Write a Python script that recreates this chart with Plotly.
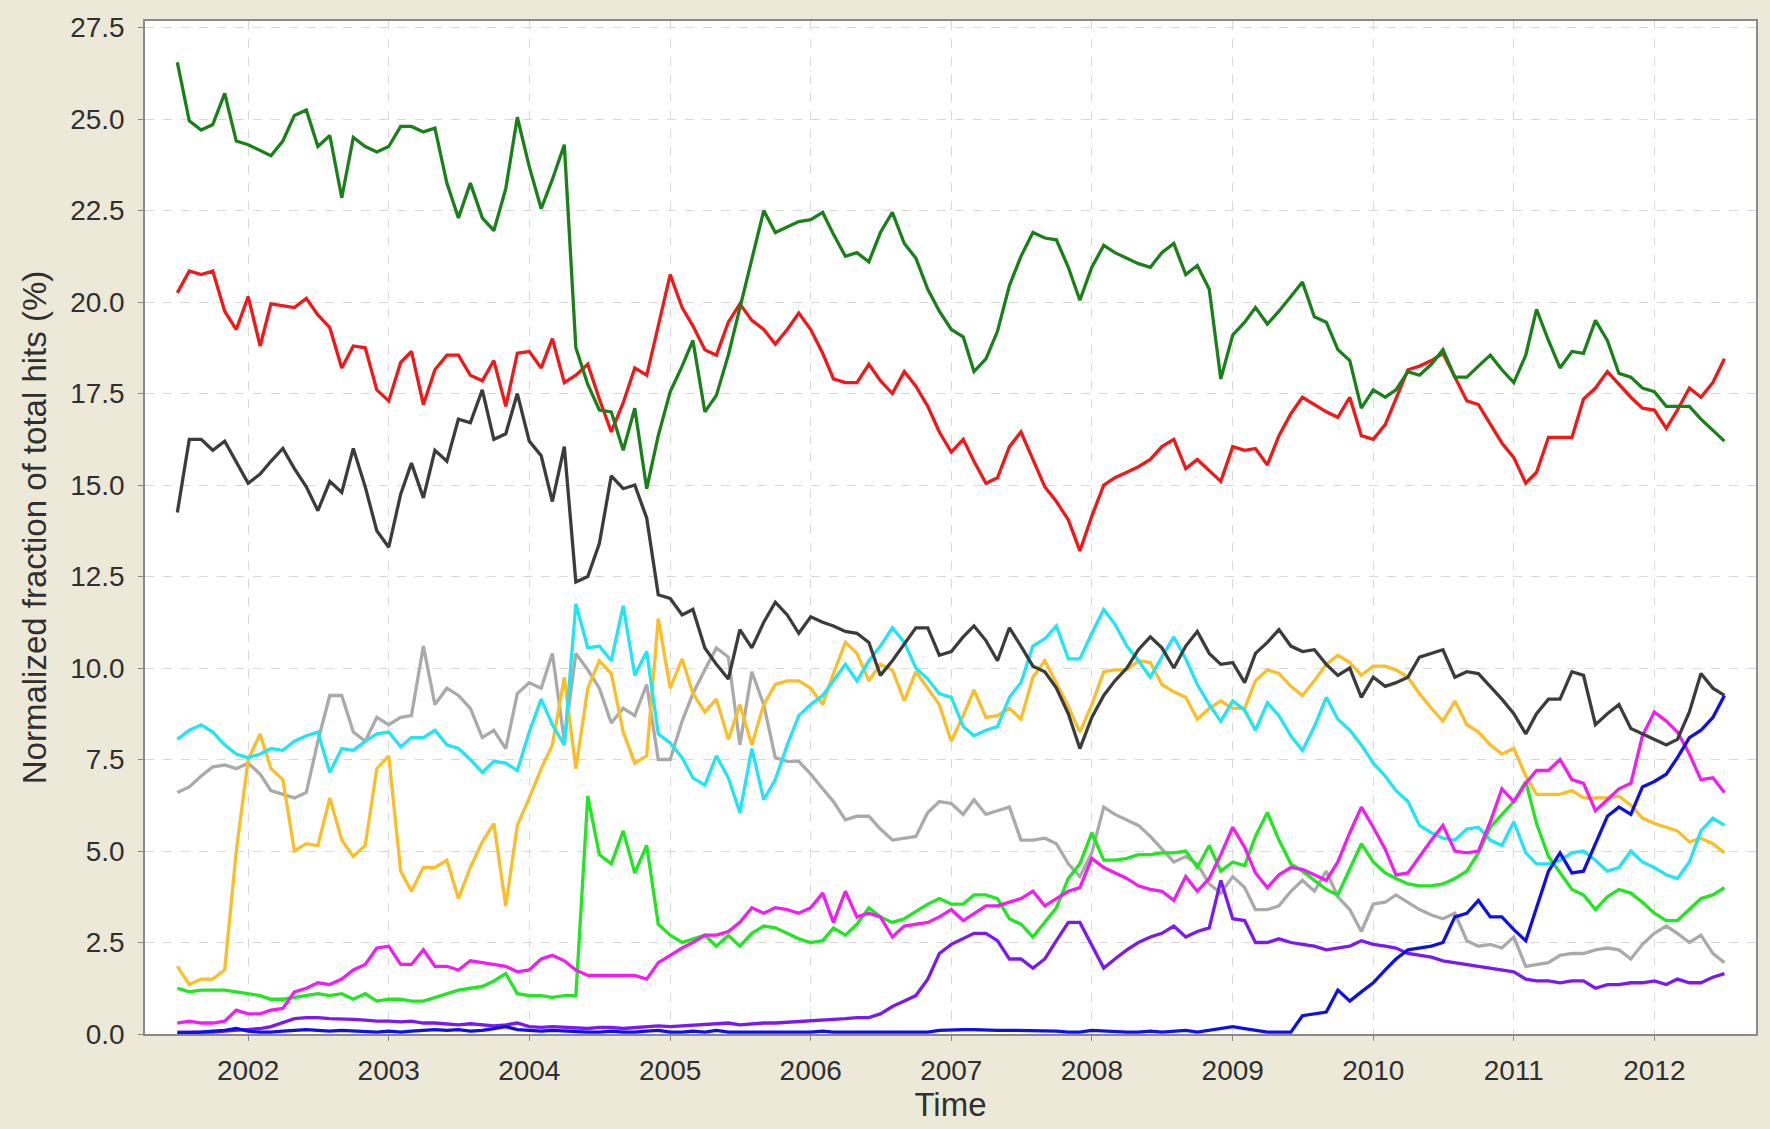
import pandas as pd
import plotly.graph_objects as go

# Monthly samples, July 2001 .. July 2012
months = pd.date_range("2001-07-01", periods=133, freq="MS")

dark_green = [
    26.55, 24.95, 24.7, 24.85, 25.7, 24.4, 24.3, 24.15, 24.0, 24.4,
    25.1, 25.25, 24.25, 24.55, 22.85, 24.5, 24.25, 24.1, 24.25, 24.8,
    24.8, 24.65, 24.75, 23.25, 22.3, 23.25, 22.3, 21.95, 23.1, 25.05,
    23.7, 22.55, 23.35, 24.3, 18.75, 17.75, 17.05, 17.0, 15.95, 17.1,
    14.9, 16.35, 17.55, 18.25, 18.95, 17.0, 17.45, 18.55, 19.85, 21.25,
    22.5, 21.9, 22.05, 22.2, 22.25, 22.45, 21.85, 21.25, 21.35, 21.1,
    21.9, 22.45, 21.6, 21.2, 20.35, 19.75, 19.25, 19.05, 18.1, 18.45,
    19.2, 20.45, 21.25, 21.9, 21.75, 21.7, 20.95, 20.05, 20.95, 21.55,
    21.35, 21.2, 21.05, 20.95, 21.35, 21.6, 20.75, 21.0, 20.35, 17.9,
    19.1, 19.45, 19.85, 19.4, 19.75, 20.15, 20.55, 19.6, 19.45, 18.7,
    18.4, 17.1, 17.6, 17.4, 17.6, 18.1, 18.0, 18.3, 18.7, 17.95,
    17.95, 18.25, 18.55, 18.15, 17.8, 18.55, 19.8, 18.95, 18.2, 18.65,
    18.6, 19.5, 18.95, 18.05, 17.95, 17.65, 17.55, 17.15, 17.15, 17.15,
    16.8, 16.5, 16.2,
]

red = [
    20.25, 20.85, 20.75, 20.85, 19.75, 19.25, 20.15, 18.8, 19.95, 19.9,
    19.85, 20.1, 19.65, 19.3, 18.2, 18.8, 18.75, 17.6, 17.3, 18.35,
    18.65, 17.2, 18.15, 18.55, 18.55, 18.0, 17.85, 18.4, 17.15, 18.6,
    18.65, 18.2, 19.0, 17.8, 18.0, 18.3, 17.35, 16.45, 17.25, 18.2,
    18.0, 19.35, 20.75, 19.85, 19.35, 18.7, 18.55, 19.45, 19.95, 19.5,
    19.25, 18.85, 19.25, 19.7, 19.25, 18.6, 17.9, 17.8, 17.8, 18.3,
    17.85, 17.5, 18.1, 17.7, 17.15, 16.45, 15.9, 16.25, 15.65, 15.05,
    15.2, 16.05, 16.45, 15.7, 14.95, 14.55, 14.05, 13.2, 14.15, 15.0,
    15.2, 15.35, 15.5, 15.7, 16.05, 16.25, 15.45, 15.7, 15.4, 15.1,
    16.05, 15.95, 16.0, 15.55, 16.35, 16.95, 17.4, 17.2, 17.0, 16.85,
    17.4, 16.35, 16.25, 16.65, 17.35, 18.15, 18.25, 18.4, 18.6, 17.95,
    17.3, 17.2, 16.65, 16.15, 15.75, 15.05, 15.35, 16.3, 16.3, 16.3,
    17.35, 17.65, 18.1, 17.75, 17.4, 17.1, 17.05, 16.55, 17.05, 17.65,
    17.4, 17.8, 18.45,
]

dark_gray = [
    14.25, 16.25, 16.25, 15.95, 16.2, 15.65, 15.05, 15.3, 15.65, 16.0,
    15.45, 14.95, 14.3, 15.1, 14.8, 16.0, 14.95, 13.75, 13.3, 14.75,
    15.6, 14.65, 15.95, 15.65, 16.8, 16.7, 17.6, 16.25, 16.4, 17.5,
    16.2, 15.8, 14.55, 16.05, 12.35, 12.5, 13.4, 15.25, 14.9, 15.0,
    14.1, 12.0, 11.9, 11.45, 11.6, 10.55, 10.1, 9.7, 11.05, 10.55,
    11.25, 11.8, 11.45, 10.95, 11.4, 11.25, 11.15, 11.0, 10.95, 10.7,
    9.8, 10.2, 10.65, 11.1, 11.1, 10.35, 10.45, 10.85, 11.15, 10.75,
    10.2, 11.1, 10.6, 10.05, 9.9, 9.45, 8.75, 7.8, 8.65, 9.25,
    9.65, 10.0, 10.5, 10.85, 10.55, 10.0, 10.6, 11.0, 10.4, 10.1,
    10.15, 9.6, 10.4, 10.7, 11.05, 10.6, 10.45, 10.5, 10.1, 9.8,
    10.0, 9.2, 9.75, 9.5, 9.6, 9.75, 10.3, 10.4, 10.5, 9.75,
    9.9, 9.85, 9.5, 9.15, 8.75, 8.2, 8.75, 9.15, 9.15, 9.9,
    9.8, 8.45, 8.75, 9.0, 8.35, 8.2, 8.05, 7.9, 8.05, 8.8,
    9.85, 9.45, 9.25,
]

cyan = [
    8.05, 8.3, 8.45, 8.25, 7.9, 7.65, 7.55, 7.65, 7.8, 7.75,
    8.0, 8.15, 8.25, 7.15, 7.8, 7.75, 8.0, 8.2, 8.25, 7.85,
    8.1, 8.1, 8.3, 7.9, 7.8, 7.5, 7.15, 7.45, 7.4, 7.2,
    8.25, 9.15, 8.45, 7.9, 11.75, 10.55, 10.6, 10.2, 11.7, 9.8,
    10.45, 8.2, 7.95, 7.55, 7.0, 6.8, 7.6, 7.0, 6.05, 7.8,
    6.4, 6.95, 7.9, 8.7, 9.0, 9.25, 9.65, 10.1, 9.65, 10.2,
    10.6, 11.1, 10.7, 10.0, 9.7, 9.3, 9.2, 8.4, 8.15, 8.3,
    8.4, 9.2, 9.6, 10.6, 10.8, 11.15, 10.25, 10.25, 10.95, 11.6,
    11.2, 10.6, 10.2, 9.75, 10.3, 10.85, 10.25, 9.55, 9.0, 8.55,
    9.1, 8.85, 8.3, 9.05, 8.7, 8.15, 7.75, 8.4, 9.2, 8.6,
    8.3, 7.9, 7.4, 7.05, 6.65, 6.35, 5.7, 5.5, 5.35, 5.3,
    5.6, 5.65, 5.3, 5.15, 5.8, 4.95, 4.65, 4.65, 4.75, 4.95,
    5.0, 4.75, 4.45, 4.55, 5.0, 4.7, 4.55, 4.35, 4.25, 4.7,
    5.55, 5.9, 5.7,
]

orange = [
    1.85, 1.35, 1.5, 1.5, 1.75, 5.0, 7.5, 8.2, 7.25, 6.95,
    5.0, 5.2, 5.15, 6.45, 5.3, 4.85, 5.15, 7.25, 7.6, 4.45,
    3.9, 4.55, 4.55, 4.75, 3.7, 4.55, 5.25, 5.75, 3.5, 5.7,
    6.45, 7.25, 7.9, 9.75, 7.25, 9.45, 10.2, 9.85, 8.25, 7.4,
    7.6, 11.35, 9.45, 10.25, 9.3, 8.8, 9.15, 8.05, 9.0, 7.9,
    9.0, 9.55, 9.65, 9.65, 9.45, 9.0, 9.85, 10.7, 10.4, 9.65,
    10.1, 9.95, 9.1, 9.9, 9.45, 9.0, 8.0, 8.7, 9.4, 8.65,
    8.7, 8.9, 8.6, 9.75, 10.2, 9.6, 8.95, 8.25, 9.0, 9.9,
    9.95, 9.95, 10.2, 10.15, 9.55, 9.35, 9.2, 8.6, 8.9, 9.1,
    8.9, 8.9, 9.65, 9.95, 9.85, 9.5, 9.25, 9.65, 10.1, 10.35,
    10.15, 9.8, 10.05, 10.05, 9.95, 9.75, 9.3, 8.9, 8.55, 9.1,
    8.45, 8.25, 7.9, 7.65, 7.8, 7.05, 6.55, 6.55, 6.55, 6.65,
    6.45, 6.45, 6.45, 6.5, 6.25, 5.9, 5.75, 5.65, 5.55, 5.25,
    5.35, 5.2, 4.95,
]

light_gray = [
    6.6, 6.75, 7.05, 7.3, 7.35, 7.25, 7.4, 7.1, 6.65, 6.55,
    6.45, 6.6, 8.0, 9.25, 9.25, 8.25, 8.0, 8.65, 8.45, 8.65,
    8.7, 10.6, 9.0, 9.45, 9.25, 8.9, 8.1, 8.3, 7.8, 9.3,
    9.6, 9.45, 10.4, 8.0, 10.4, 9.95, 9.45, 8.5, 8.9, 8.7,
    9.55, 7.5, 7.5, 8.55, 9.3, 9.95, 10.55, 10.3, 7.9, 9.9,
    9.0, 7.55, 7.45, 7.45, 7.1, 6.7, 6.35, 5.85, 5.95, 5.95,
    5.6, 5.3, 5.35, 5.4, 6.05, 6.35, 6.3, 6.0, 6.4, 6.0,
    6.1, 6.2, 5.3, 5.3, 5.35, 5.2, 4.65, 4.3, 4.95, 6.2,
    6.0, 5.85, 5.7, 5.4, 5.05, 4.7, 4.85, 4.65, 4.1, 3.85,
    4.3, 4.0, 3.4, 3.4, 3.5, 3.9, 4.2, 3.9, 4.45, 3.75,
    3.4, 2.8, 3.55, 3.6, 3.8, 3.6, 3.4, 3.25, 3.15, 3.3,
    2.55, 2.4, 2.45, 2.35, 2.65, 1.85, 1.9, 1.95, 2.15, 2.2,
    2.2, 2.3, 2.35, 2.3, 2.05, 2.45, 2.75, 2.95, 2.75, 2.5,
    2.7, 2.2, 1.95,
]

light_green = [
    1.25, 1.15, 1.2, 1.2, 1.2, 1.15, 1.1, 1.05, 0.95, 0.95,
    1.0, 1.05, 1.1, 1.05, 1.1, 0.95, 1.1, 0.9, 0.95, 0.95,
    0.9, 0.9, 1.0, 1.1, 1.2, 1.25, 1.3, 1.45, 1.65, 1.1,
    1.05, 1.05, 1.0, 1.05, 1.05, 6.5, 4.9, 4.65, 5.55, 4.4,
    5.15, 3.0, 2.7, 2.5, 2.6, 2.7, 2.4, 2.7, 2.4, 2.75,
    2.95, 2.9, 2.75, 2.6, 2.5, 2.55, 2.9, 2.7, 3.0, 3.45,
    3.2, 3.05, 3.15, 3.35, 3.55, 3.7, 3.55, 3.55, 3.8, 3.8,
    3.7, 3.15, 3.0, 2.65, 3.05, 3.45, 4.25, 4.65, 5.5, 4.75,
    4.75, 4.8, 4.9, 4.9, 4.95, 4.95, 5.0, 4.55, 5.15, 4.45,
    4.7, 4.6, 5.4, 6.05, 5.3, 4.65, 4.45, 4.2, 3.95, 3.8,
    4.5, 5.2, 4.7, 4.4, 4.25, 4.1, 4.05, 4.05, 4.1, 4.25,
    4.45, 4.95, 5.65, 6.0, 6.35, 6.9, 5.75, 4.85, 4.4, 3.95,
    3.8, 3.4, 3.75, 3.95, 3.85, 3.6, 3.3, 3.1, 3.1, 3.4,
    3.7, 3.8, 4.0,
]

magenta = [
    0.3, 0.35, 0.3, 0.3, 0.35, 0.65, 0.55, 0.55, 0.65, 0.7,
    1.15, 1.25, 1.4, 1.35, 1.5, 1.75, 1.9, 2.35, 2.4, 1.9,
    1.9, 2.3, 1.85, 1.85, 1.75, 2.0, 1.95, 1.9, 1.85, 1.7,
    1.75, 2.05, 2.15, 2.0, 1.75, 1.6, 1.6, 1.6, 1.6, 1.6,
    1.5, 1.95, 2.15, 2.35, 2.5, 2.7, 2.7, 2.8, 3.05, 3.45,
    3.3, 3.45, 3.4, 3.3, 3.45, 3.85, 3.05, 3.9, 3.2, 3.3,
    3.2, 2.65, 2.95, 3.0, 3.05, 3.2, 3.4, 3.1, 3.3, 3.5,
    3.5, 3.6, 3.7, 3.9, 3.5, 3.7, 3.9, 4.0, 4.8, 4.55,
    4.4, 4.25, 4.05, 3.95, 3.9, 3.65, 4.3, 3.9, 4.25, 4.9,
    5.65, 5.1, 4.4, 4.0, 4.35, 4.55, 4.5, 4.35, 4.2, 4.7,
    5.5, 6.2, 5.65, 5.05, 4.35, 4.4, 4.85, 5.3, 5.7, 5.0,
    4.95, 5.0, 5.8, 6.7, 6.35, 6.85, 7.2, 7.2, 7.5, 6.95,
    6.85, 6.1, 6.4, 6.7, 6.85, 8.15, 8.8, 8.55, 8.25, 7.65,
    6.95, 7.0, 6.6,
]

purple = [
    0.05, 0.05, 0.05, 0.05, 0.08, 0.1, 0.12, 0.15, 0.2, 0.3,
    0.42, 0.45, 0.45, 0.42, 0.42, 0.4, 0.38, 0.35, 0.35, 0.33,
    0.35, 0.3, 0.3, 0.28, 0.25, 0.28, 0.25, 0.22, 0.25, 0.3,
    0.2, 0.18, 0.2, 0.18, 0.15, 0.15, 0.18, 0.18, 0.15, 0.18,
    0.2, 0.22, 0.2, 0.22, 0.25, 0.25, 0.28, 0.3, 0.25, 0.28,
    0.3, 0.3, 0.32, 0.35, 0.35, 0.38, 0.4, 0.42, 0.45, 0.45,
    0.55, 0.75, 0.9, 1.05, 1.5, 2.2, 2.45, 2.6, 2.75, 2.75,
    2.55, 2.05, 2.05, 1.8, 2.05, 2.55, 3.05, 3.05, 2.4, 1.8,
    2.05, 2.3, 2.5, 2.65, 2.75, 2.95, 2.65, 2.8, 2.9, 4.2,
    3.15, 3.1, 2.5, 2.5, 2.6, 2.5, 2.45, 2.4, 2.3, 2.35,
    2.4, 2.55, 2.45, 2.4, 2.35, 2.2, 2.15, 2.1, 2.0, 1.95,
    1.9, 1.85, 1.8, 1.75, 1.7, 1.5, 1.45, 1.45, 1.4, 1.45,
    1.45, 1.25, 1.35, 1.35, 1.4, 1.4, 1.45, 1.35, 1.5, 1.4,
    1.4, 1.55, 1.65,
]

blue = [
    0.02, 0.03, 0.05, 0.08, 0.1, 0.15, 0.08, 0.05, 0.05, 0.08,
    0.1, 0.12, 0.1, 0.08, 0.1, 0.08, 0.05, 0.05, 0.08, 0.05,
    0.08, 0.1, 0.12, 0.1, 0.12, 0.08, 0.1, 0.15, 0.2, 0.12,
    0.1, 0.08, 0.1, 0.08, 0.05, 0.05, 0.05, 0.08, 0.05, 0.05,
    0.08, 0.1, 0.05, 0.05, 0.08, 0.05, 0.1, 0.05, 0.05, 0.05,
    0.05, 0.05, 0.05, 0.05, 0.05, 0.08, 0.05, 0.05, 0.05, 0.05,
    0.05, 0.05, 0.05, 0.05, 0.05, 0.1, 0.12, 0.12, 0.12, 0.1,
    0.1, 0.1, 0.1, 0.1, 0.08, 0.08, 0.05, 0.05, 0.1, 0.08,
    0.05, 0.05, 0.05, 0.08, 0.05, 0.08, 0.1, 0.05, 0.1, 0.15,
    0.2, 0.15, 0.1, 0.05, 0.05, 0.05, 0.5, 0.55, 0.6, 1.2,
    0.9, 1.15, 1.4, 1.75, 2.05, 2.3, 2.35, 2.4, 2.5, 3.2,
    3.3, 3.65, 3.2, 3.2, 2.85, 2.55, 3.45, 4.45, 4.95, 4.4,
    4.45, 5.2, 5.95, 6.2, 6.0, 6.75, 6.9, 7.1, 7.55, 8.1,
    8.3, 8.65, 9.25,
]

year_ticks = ["2002", "2003", "2004", "2005", "2006", "2007",
              "2008", "2009", "2010", "2011", "2012"]
y_ticks = [0.0, 2.5, 5.0, 7.5, 10.0, 12.5, 15.0, 17.5, 20.0, 22.5, 25.0, 27.5]

series = [
    ("light gray", light_gray, "#AAAAAA"),
    ("orange", orange, "#F9BE2A"),
    ("cyan", cyan, "#22E4F2"),
    ("light green", light_green, "#22E622"),
    ("magenta", magenta, "#F01EF0"),
    ("purple", purple, "#7A1AF0"),
    ("blue", blue, "#1010E6"),
    ("dark gray", dark_gray, "#3C3C3C"),
    ("red", red, "#F01818"),
    ("dark green", dark_green, "#1A801A"),
]

fig = go.Figure()
for name, vals, color in series:
    fig.add_trace(go.Scatter(
        x=months, y=vals, mode="lines", name=name,
        line=dict(color=color, width=3.3), showlegend=False,
    ))

font_family = "Liberation Sans, Arial, sans-serif"
text_color = "#303030"
fig.update_layout(
    width=1770, height=1129,
    paper_bgcolor="#ECE9D8",
    plot_bgcolor="#FFFFFF",
    margin=dict(l=145, r=13, t=16, b=95),
    font=dict(family=font_family, color=text_color, size=28),
    showlegend=False,
)
fig.update_xaxes(
    type="date",
    range=["2001-04-08", "2012-09-21"],
    tickvals=[f"{y}-01-01" for y in year_ticks],
    ticktext=year_ticks,
    tickfont=dict(size=28, color=text_color),
    ticks="outside", ticklen=5, tickcolor="#888888",
    ticklabelstandoff=6,
    showgrid=True, gridcolor="#D8D8D8", griddash="dash", gridwidth=1,
    showline=True, linecolor="#8A8A8A", linewidth=1.5, mirror=True,
    zeroline=False,
    title=dict(text="Time", font=dict(size=33, color=text_color), standoff=4),
)
fig.update_yaxes(
    range=[0, 27.68],
    tickvals=y_ticks,
    ticktext=[f"{v:.1f}" for v in y_ticks],
    tickfont=dict(size=28, color=text_color),
    ticks="outside", ticklen=5, tickcolor="#888888",
    ticklabelstandoff=8,
    showgrid=True, gridcolor="#D8D8D8", griddash="dash", gridwidth=1,
    showline=True, linecolor="#8A8A8A", linewidth=1.5, mirror=True,
    zeroline=False,
    title=dict(text="Normalized fraction of total hits (%)",
               font=dict(size=33, color=text_color), standoff=14),
)

fig.write_html(
    "out.html",
    config={"displayModeBar": False},
    post_script="document.body.style.margin='0';document.body.style.overflow='hidden';",
)
